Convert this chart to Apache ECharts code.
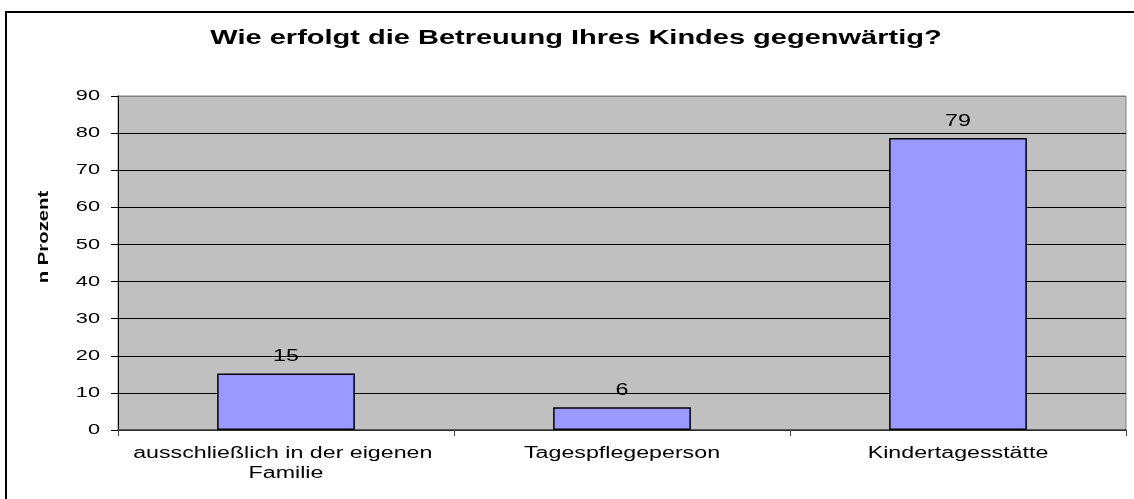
<!DOCTYPE html>
<html>
<head>
<meta charset="utf-8">
<script src="https://cdn.jsdelivr.net/npm/echarts@6/dist/echarts.min.js"></script>
<style>
  html, body { margin: 0; padding: 0; background: #fff; }
  #chart { width: 1134px; height: 499px; }
</style>
</head>
<body>
<div id="chart"></div>
<script>
  // Werte (Prozent)
  const categories = ['ausschließlich in der eigenen Familie', 'Tagespflegeperson', 'Kindertagesstätte'];
  const values = [15.2, 6.1, 78.7];
  const yTicks = [0, 10, 20, 30, 40, 50, 60, 70, 80, 90];

  // the original export draws all text horizontally stretched, so widen glyphs along the baseline
  const TEXT_STRETCH = 1.45;
  const proto = CanvasRenderingContext2D.prototype;
  const origFill = proto.fillText;
  const origStroke = proto.strokeText;
  const origMeasure = proto.measureText;
  proto.fillText = function (t, x, y) {
    this.save();
    this.translate(x, y);
    this.scale(TEXT_STRETCH, 1);
    origFill.call(this, t, 0, 0);
    this.restore();
  };
  proto.strokeText = function (t, x, y) {
    this.save();
    this.translate(x, y);
    this.scale(TEXT_STRETCH, 1);
    origStroke.call(this, t, 0, 0);
    this.restore();
  };
  proto.measureText = function (t) {
    const m = origMeasure.call(this, t);
    return {
      width: m.width * TEXT_STRETCH,
      actualBoundingBoxLeft: m.actualBoundingBoxLeft * TEXT_STRETCH,
      actualBoundingBoxRight: m.actualBoundingBoxRight * TEXT_STRETCH,
      actualBoundingBoxAscent: m.actualBoundingBoxAscent,
      actualBoundingBoxDescent: m.actualBoundingBoxDescent,
      fontBoundingBoxAscent: m.fontBoundingBoxAscent,
      fontBoundingBoxDescent: m.fontBoundingBoxDescent
    };
  };

  const chart = echarts.init(document.getElementById('chart'));

  // top gridline is the grey plot border, the rest black
  const splitColors = yTicks.map((t, i) => i === yTicks.length - 1 ? '#808080' : '#000');

  const option = {
    animation: false,
    textStyle: { fontFamily: 'Liberation Sans, Arial, sans-serif' },
    title: {
      text: 'Wie erfolgt die Betreuung Ihres Kindes gegenwärtig?',
      left: 571,
      top: 19,
      textAlign: 'center',
      textStyle: { fontSize: 20, fontWeight: 'bold', color: '#000' }
    },
    graphic: [
      {
        type: 'rect',
        shape: { x: 6, y: 12, width: 1140, height: 500 },
        style: { fill: 'none', stroke: '#000', lineWidth: 2 },
        silent: true
      },
      {
        type: 'text',
        x: 44,
        y: 237,
        rotation: Math.PI / 2,
        style: {
          text: 'n Prozent',
          fontSize: 14,
          fontWeight: 'bold',
          fill: '#000',
          align: 'center',
          verticalAlign: 'middle',
          fontFamily: 'Liberation Sans, Arial, sans-serif'
        }
      }
    ],
    grid: {
      left: 118,
      right: 8,
      top: 96,
      bottom: 69,
      show: true,
      backgroundColor: '#C0C0C0',
      borderColor: '#808080',
      borderWidth: 1
    },
    xAxis: {
      type: 'category',
      data: categories,
      axisLine: { lineStyle: { color: '#404040', width: 1.5 } },
      axisTick: { show: true, length: 6, lineStyle: { color: '#404040' } },
      axisLabel: {
        interval: 0,
        fontSize: 16,
        color: '#000',
        margin: 14,
        lineHeight: 20,
        width: 330,
        overflow: 'break',
        align: 'center'
      }
    },
    yAxis: {
      type: 'value',
      min: 0,
      max: 90,
      interval: 10,
      axisLine: { show: true, lineStyle: { color: '#000', width: 1 } },
      axisTick: { show: true, length: 7, lineStyle: { color: '#000' } },
      axisLabel: { fontSize: 15, color: '#000', margin: 18 },
      splitLine: { show: true, lineStyle: { color: splitColors, width: 1 } }
    },
    series: [
      {
        type: 'bar',
        data: values,
        barCategoryGap: '59%',
        itemStyle: { color: '#9999FF', borderColor: '#000', borderWidth: 1.5 },
        label: {
          show: true,
          position: 'top',
          distance: 5,
          fontSize: 16,
          color: '#000',
          formatter: p => Math.round(p.value)
        }
      }
    ]
  };

  chart.setOption(option);
</script>
</body>
</html>
